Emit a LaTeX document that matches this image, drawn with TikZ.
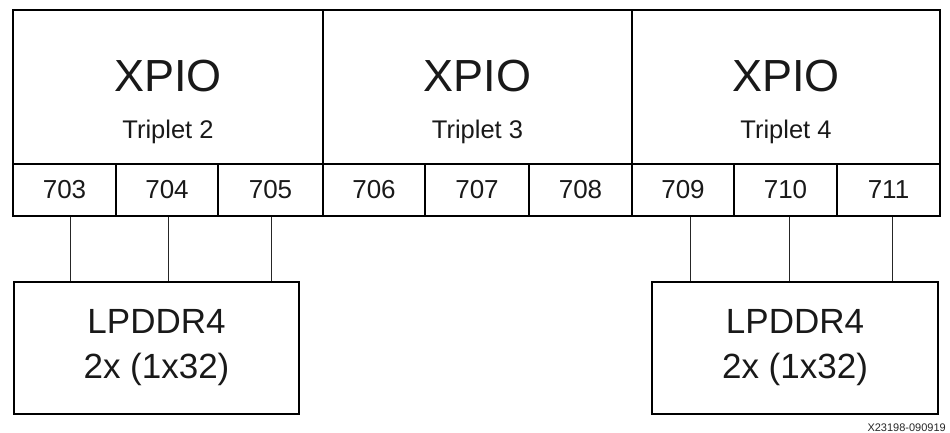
\documentclass[tikz,border=0pt]{standalone}
\usepackage{fontspec}
\setmainfont{Liberation Sans}
\begin{document}
\begin{tikzpicture}[x=1pt,y=-1pt,
  tripbox/.style={draw=black,line width=2pt,minimum width=310pt,minimum height=154pt,inner sep=0pt},
  portbox/.style={draw=black,line width=2pt,minimum height=52pt,inner sep=0pt,font=\fontsize{26}{30}\selectfont,text=black!90},
  ddrbox/.style={draw=black,line width=1.3pt,minimum width=285pt,minimum height=132pt,inner sep=0pt,align=center,font=\fontsize{35}{45}\selectfont,text=black!90},
  bigtxt/.style={font=\fontsize{45}{50}\selectfont,text=black!90,inner sep=0pt},
  subtxt/.style={font=\fontsize{25.5}{30}\selectfont,text=black!90,inner sep=0pt},
  wire/.style={draw=black!85,line width=1pt}]
\useasboundingbox (0,0) rectangle (950,433);
% triplet boxes
\node[tripbox] (t2) at (168,87) {};
\node[tripbox,minimum width=309pt] (t3) at (477.5,87) {};
\node[tripbox,minimum width=308pt] (t4) at (786,87) {};
\node[bigtxt] (x2) at (168,76) {XPIO};
\node[bigtxt] (x3) at (477.5,76) {XPIO};
\node[bigtxt] (x4) at (786,76) {XPIO};
\node[subtxt] (s2) at (168,132) {Triplet 2};
\node[subtxt] (s3) at (477.5,132) {Triplet 3};
\node[subtxt] (s4) at (786,132) {Triplet 4};
% ports
\node[portbox,minimum width=103pt] (p703) at (64.5,190) {703};
\node[portbox,minimum width=102pt] (p704) at (167,190) {704};
\node[portbox,minimum width=105pt] (p705) at (270.5,190) {705};
\node[portbox,minimum width=102pt] (p706) at (374,190) {706};
\node[portbox,minimum width=104pt] (p707) at (477,190) {707};
\node[portbox,minimum width=103pt] (p708) at (580.5,190) {708};
\node[portbox,minimum width=102pt] (p709) at (683,190) {709};
\node[portbox,minimum width=103pt] (p710) at (785.5,190) {710};
\node[portbox,minimum width=103pt] (p711) at (888.5,190) {711};
% memory boxes
\node[ddrbox] (ddrL) at (156.5,348) {LPDDR4\\2x (1x32)};
\node[ddrbox,minimum width=286pt] (ddrR) at (795,348) {LPDDR4\\2x (1x32)};
% connector x positions
\coordinate (c1) at (70,250);
\coordinate (c2) at (168,250);
\coordinate (c3) at (271,250);
\coordinate (c4) at (690,250);
\coordinate (c5) at (789,250);
\coordinate (c6) at (892,250);
\draw[wire] (p703.south -| c1) -- (ddrL.north -| c1);
\draw[wire] (p704.south -| c2) -- (ddrL.north -| c2);
\draw[wire] (p705.south -| c3) -- (ddrL.north -| c3);
\draw[wire] (p709.south -| c4) -- (ddrR.north -| c4);
\draw[wire] (p710.south -| c5) -- (ddrR.north -| c5);
\draw[wire] (p711.south -| c6) -- (ddrR.north -| c6);
% figure id
\node[anchor=base east,inner sep=0pt,font=\fontsize{11}{13}\selectfont,text=black!85] (fid) at (946,431) {X23198-090919};
\end{tikzpicture}
\end{document}
